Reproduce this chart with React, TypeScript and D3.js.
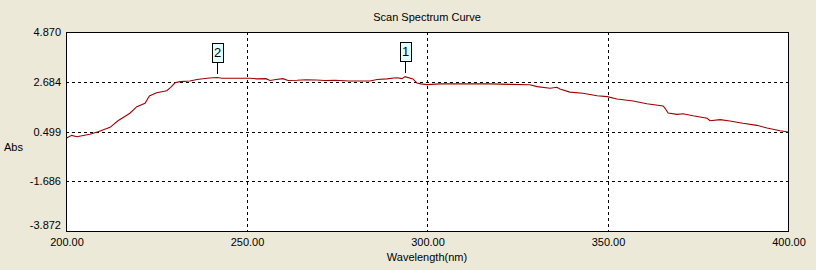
import React from "react";
import * as d3 from "d3";

const wavelengths = [
  200.0, 201.6, 203.0, 206.6, 208.9, 212.2, 214.4, 217.7, 219.6, 221.9, 223.1, 225.1, 227.9, 229.0,
  230.2, 231.6, 234.3, 236.3, 239.1, 240.7, 241.9, 243.2, 248.2, 251.0, 252.9, 255.4,
  256.5, 258.2, 260.1, 261.5, 264.0, 266.5, 269.3, 271.7, 274.5, 278.4, 281.2, 284.2, 286.2, 288.9,
  290.9, 291.7, 293.1, 293.9, 296.1, 297.2, 298.3, 300.0, 303.6, 310.0, 317.5, 323.0, 328.5, 330.5,
  334.1, 336.0, 336.8, 339.6, 343.2, 347.1, 349.9, 352.6, 357.1, 360.9, 365.4, 365.9, 366.8, 369.3,
  370.9, 373.7, 377.6, 378.4, 381.2, 383.9, 387.5, 391.4, 394.2, 397.8, 400.0,
];
const absorbance = [
  0.20, 0.33, 0.27, 0.38, 0.49, 0.68, 0.97, 1.30, 1.59, 1.74, 2.06, 2.20, 2.29, 2.44,
  2.64, 2.69, 2.72, 2.78, 2.84, 2.86, 2.87, 2.84, 2.84, 2.84, 2.81, 2.82,
  2.74, 2.78, 2.82, 2.74, 2.75, 2.77, 2.76, 2.74, 2.75, 2.72, 2.72, 2.72, 2.78, 2.81,
  2.85, 2.86, 2.82, 2.91, 2.81, 2.63, 2.59, 2.56, 2.59, 2.59, 2.59, 2.57, 2.55, 2.47,
  2.40, 2.44, 2.37, 2.23, 2.18, 2.07, 2.03, 1.93, 1.84, 1.72, 1.62, 1.53, 1.31, 1.25,
  1.28, 1.19, 1.08, 0.97, 1.02, 0.96, 0.86, 0.77, 0.65, 0.53, 0.48,
];

const xTicks = [200, 250, 300, 350, 400];
const yTicks = [4.87, 2.684, 0.499, -1.686, -3.872];

const peakLabels = ["1", "2"];
const peakWavelengths = [293.9, 241.9];
const peakValues = [2.91, 2.86];

const title = "Scan Spectrum Curve";
const xTitle = "Wavelength(nm)";
const yTitle = "Abs";

const W = 816;
const H = 270;
const left = 66;
const right = 788;
const top = 32;
const bottom = 231;
const font = "'Liberation Sans', Arial, sans-serif";

export default function App() {
  const x = d3.scaleLinear().domain([200, 400]).range([left, right]);
  const y = d3.scaleLinear().domain([-3.872, 4.87]).range([bottom, top]);
  const data = wavelengths.map((w, i) => [w, absorbance[i]] as [number, number]);
  const line = d3
    .line<[number, number]>()
    .x((d) => x(d[0]))
    .y((d) => y(d[1]));

  return (
    <div style={{ position: "fixed", left: 0, top: 0, width: W, height: H }}>
      <svg width={W} height={H} style={{ display: "block" }} fontFamily={font} fontSize={11}>
        <rect x={0} y={0} width={W} height={H} fill="#ECE9D8" />
        <rect x={left} y={top} width={right - left} height={bottom - top} fill="#ffffff" />
        <text x={(left + right) / 2} y={21} textAnchor="middle" fill="#000">
          {title}
        </text>
        {/* grid */}
        {xTicks.slice(1, -1).map((t) => (
          <line
            key={"gx" + t}
            x1={Math.round(x(t)) + 0.5}
            x2={Math.round(x(t)) + 0.5}
            y1={top}
            y2={bottom}
            stroke="#000"
            strokeDasharray="3,3"
            shapeRendering="crispEdges"
          />
        ))}
        {yTicks.slice(1, -1).map((t) => (
          <line
            key={"gy" + t}
            x1={left}
            x2={right}
            y1={Math.round(y(t)) + 0.5}
            y2={Math.round(y(t)) + 0.5}
            stroke="#000"
            strokeDasharray="3,3"
            shapeRendering="crispEdges"
          />
        ))}
        {/* curve */}
        <path d={line(data) || ""} fill="none" stroke="#a00000" strokeWidth={1.1} />
        {/* markers */}
        {peakLabels.map((lab, i) => {
          const px = Math.round(x(peakWavelengths[i])) + 0.5;
          const py = Math.round(y(peakValues[i]));
          const stemBottom = py - 4;
          const stemTop = stemBottom - 12;
          return (
            <g key={"pk" + lab}>
              <line x1={px} x2={px} y1={stemTop} y2={stemBottom} stroke="#000" shapeRendering="crispEdges" />
              <rect
                x={px - 5.5}
                y={stemTop - 19 + 0.5}
                width={11}
                height={19}
                fill="#E1FFFF"
                stroke="#000"
                shapeRendering="crispEdges"
              />
              <text x={px} y={stemTop - 5} textAnchor="middle" fontSize={13} fill="#000">
                {lab}
              </text>
            </g>
          );
        })}
        {/* frame */}
        <rect
          x={left + 0.5}
          y={top + 0.5}
          width={right - left}
          height={bottom - top}
          fill="none"
          stroke="#000"
          shapeRendering="crispEdges"
        />
        {/* y labels */}
        {yTicks.map((t, i) => {
          const ty = Math.min(y(t), bottom - 6);
          return (
            <text key={"yl" + i} x={61} y={ty + 4} textAnchor="end" fill="#000">
              {t.toFixed(3)}
            </text>
          );
        })}
        {/* x labels */}
        {xTicks.map((t) => (
          <text key={"xl" + t} x={x(t) + 1} y={246} textAnchor="middle" fill="#000">
            {t.toFixed(2)}
          </text>
        ))}
        <text x={(left + right) / 2} y={261} textAnchor="middle" fill="#000">
          {xTitle}
        </text>
        <text x={4} y={151} fill="#000">
          {yTitle}
        </text>
      </svg>
    </div>
  );
}
